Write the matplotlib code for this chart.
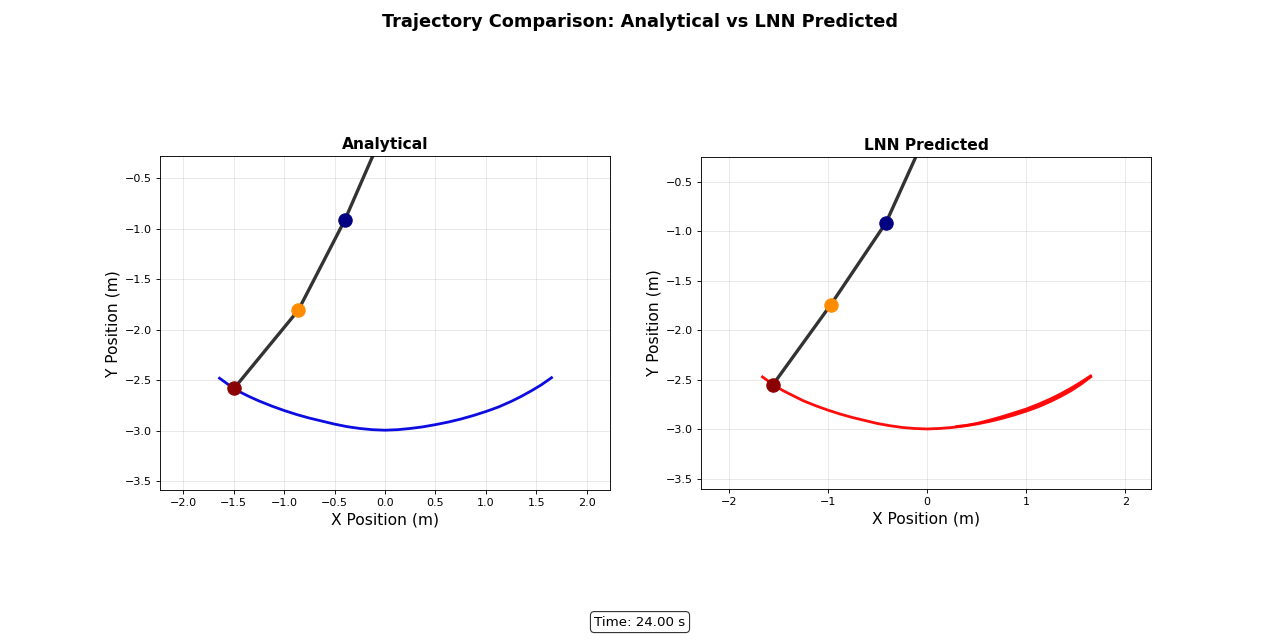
import matplotlib
matplotlib.use('Agg')
import matplotlib.pyplot as plt

# Pendulum state at t = 24 s (pivot, bob1, bob2, bob3)
ana_x = [0.0, -0.40, -0.86, -1.495]
ana_y = [0.0, -0.916, -1.807, -2.58]
lnn_x = [0.0, -0.414, -0.97, -1.556]
lnn_y = [0.0, -0.914, -1.74, -2.55]

# Trail of the last bob
ana_trail_x = [-1.64, -1.55, -1.45, -1.35, -1.25, -1.125, -1.0, -0.875, -0.75, -0.625, -0.5, -0.375, -0.25, -0.125,
               0.0, 0.125, 0.25, 0.375, 0.5, 0.625, 0.75, 0.875, 1.0, 1.125, 1.25, 1.35, 1.45, 1.55, 1.65]
ana_trail_y = [-2.48, -2.545, -2.61, -2.66, -2.705, -2.755, -2.80, -2.84, -2.875, -2.905, -2.935, -2.96, -2.978, -2.99,
               -2.995, -2.99, -2.978, -2.962, -2.94, -2.915, -2.885, -2.85, -2.81, -2.765, -2.71, -2.66, -2.605, -2.545, -2.475]
lnn_trail_x = [-1.66, -1.55, -1.45, -1.35, -1.25, -1.125, -1.0, -0.875, -0.75, -0.625, -0.5, -0.375, -0.25, -0.125,
               0.0, 0.125, 0.25, 0.375, 0.5, 0.625, 0.75, 0.875, 1.0, 1.125, 1.25, 1.35, 1.45, 1.55, 1.65]
lnn_trail_y = [-2.47, -2.55, -2.61, -2.66, -2.71, -2.76, -2.805, -2.845, -2.88, -2.91, -2.94, -2.962, -2.98, -2.99,
               -2.995, -2.99, -2.98, -2.965, -2.945, -2.92, -2.89, -2.855, -2.815, -2.77, -2.715, -2.665, -2.61, -2.545, -2.47]
# second pass on the right (LNN drifts a little)
lnn_trail2_x = [0.3, 0.4, 0.5, 0.625, 0.75, 0.875, 1.0, 1.125, 1.25, 1.35, 1.45, 1.55, 1.65]
lnn_trail2_y = [-2.97, -2.958, -2.94, -2.908, -2.873, -2.834, -2.794, -2.745, -2.69, -2.64, -2.585, -2.525, -2.46]

time_s = 24.00

fig = plt.figure(figsize=(16, 8), dpi=80)
fig.suptitle('Trajectory Comparison: Analytical vs LNN Predicted', fontsize=16, fontweight='bold', y=0.98)

ax1 = fig.add_axes([0.125, 0.234, 0.3516, 0.522])
ax2 = fig.add_axes([0.5477, 0.236, 0.3516, 0.519])

def draw(ax, px, py, tx, ty, color, title):
    ax.plot(tx, ty, color=color, lw=2.5, alpha=0.95)
    ax.plot(px, py, '-', color='#333333', lw=3)
    ax.plot(px[1], py[1], 'o', color='navy', ms=12)
    ax.plot(px[2], py[2], 'o', color='darkorange', ms=12)
    ax.plot(px[3], py[3], 'o', color='darkred', ms=12)
    ax.set_title(title, fontsize=14, fontweight='bold')
    ax.set_xlabel('X Position (m)', fontsize=14)
    ax.set_ylabel('Y Position (m)', fontsize=14)
    ax.set_yticks([-0.5, -1.0, -1.5, -2.0, -2.5, -3.0, -3.5])
    ax.grid(True, alpha=0.3)

draw(ax1, ana_x, ana_y, ana_trail_x, ana_trail_y, '#0000e0', 'Analytical')
ax1.set_xlim(-2.23, 2.23)
ax1.set_ylim(-3.59, -0.28)
ax1.set_xticks([-2.0, -1.5, -1.0, -0.5, 0.0, 0.5, 1.0, 1.5, 2.0])

draw(ax2, lnn_x, lnn_y, lnn_trail_x, lnn_trail_y, 'red', 'LNN Predicted')
ax2.plot(lnn_trail2_x, lnn_trail2_y, color='red', lw=2.5, alpha=0.95)
ax2.set_xlim(-2.28, 2.26)
ax2.set_ylim(-3.60, -0.25)
ax2.set_xticks([-2, -1, 0, 1, 2])

fig.text(0.5, 0.028, 'Time: %.2f s' % time_s, ha='center', va='center', fontsize=12,
         bbox=dict(boxstyle='round', facecolor='white', edgecolor='#333333'))

plt.savefig('out.png', dpi=80)
